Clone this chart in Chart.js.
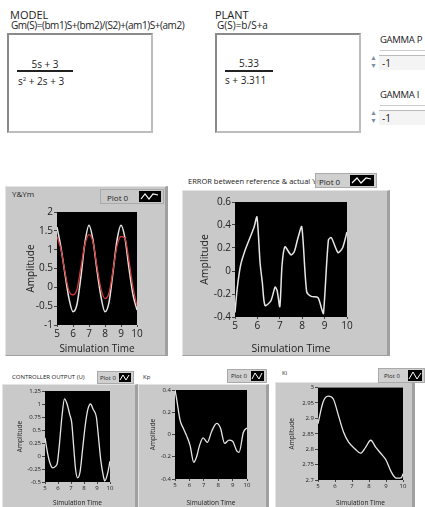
<!DOCTYPE html>
<html>
<head>
<meta charset="utf-8">
<script src="https://cdn.jsdelivr.net/npm/chart.js@4.4.0/dist/chart.umd.min.js"></script>
<style>
body{margin:0;width:425px;height:507px;overflow:hidden;background:#fff;font-family:"Open Sans",sans-serif;color:#222;position:relative}
.lbl{position:absolute;white-space:nowrap;line-height:1}
.box{position:absolute;background:#fff;border:2px solid #8a8a8a;border-right-color:#bdbdbd;border-bottom-color:#bdbdbd;box-sizing:border-box}
.panel{position:absolute;background:#c9c9c9;border:1px solid #e4e4e4;border-right:3px solid #a0a0a0;border-bottom-color:#a0a0a0;box-sizing:border-box}
.leg{position:absolute;background:rgba(200,200,200,0.85);border:1px solid #aaa;box-sizing:border-box;font-size:8px}
.leg span{position:absolute;top:50%;transform:translateY(-50%)}
.leg svg{position:absolute;top:1px;bottom:1px;right:2px;background:#000}
.spin{position:absolute;width:9px;font-size:7px;color:#7d8fa8;line-height:8px;text-align:center}
.field{position:absolute;background:#f4f4f4;border-top:1px solid #bbb;font-size:10px;line-height:14px;padding-left:3px;box-sizing:border-box}
canvas{position:absolute}
</style>
</head>
<body>

<!-- model / plant -->
<div class="lbl" style="left:10px;top:9px;font-size:11px">MODEL</div>
<div class="lbl" style="left:11px;top:20px;font-size:10px;letter-spacing:-0.45px">Gm(S)=(bm1)S+(bm2)/(S2)+(am1)S+(am2)</div>
<div class="box" style="left:7px;top:33px;width:146px;height:100px"></div>
<div class="lbl" style="left:17px;top:59px;width:56px;text-align:center;font-size:10px">5s + 3</div>
<div style="position:absolute;left:17px;top:70px;width:56px;height:2px;background:#222"></div>
<div class="lbl" style="left:18px;top:76px;font-size:10px">s<sup style="font-size:6px">2</sup> + 2s + 3</div>

<div class="lbl" style="left:215px;top:9px;font-size:11px">PLANT</div>
<div class="lbl" style="left:217px;top:20px;font-size:10px">G(S)=b/S+a</div>
<div class="box" style="left:215px;top:33px;width:146px;height:100px"></div>
<div class="lbl" style="left:225px;top:58px;width:48px;text-align:center;font-size:10px">5.33</div>
<div style="position:absolute;left:225px;top:70px;width:48px;height:2px;background:#222"></div>
<div class="lbl" style="left:225px;top:75px;font-size:10px">s + 3.311</div>

<div class="lbl" style="left:380px;top:35px;font-size:9.5px;letter-spacing:-0.3px">GAMMA P</div>
<div style="position:absolute;left:380px;top:50px;width:45px;height:1px;background:#ccc"></div>
<div class="spin" style="left:369px;top:54px">&#9650;<br>&#9660;</div>
<div class="field" style="left:379px;top:55px;width:46px;height:15px">-1</div>
<div class="lbl" style="left:380px;top:90px;font-size:9.5px;letter-spacing:-0.3px">GAMMA I</div>
<div style="position:absolute;left:380px;top:105px;width:45px;height:1px;background:#ccc"></div>
<div class="spin" style="left:369px;top:109px">&#9650;<br>&#9660;</div>
<div class="field" style="left:379px;top:110px;width:46px;height:15px">-1</div>

<!-- graph panels -->
<div class="panel" style="left:5px;top:186px;width:163px;height:170px"></div>
<div class="lbl" style="left:12px;top:190px;font-size:8px">Y&amp;Ym</div>
<div class="leg" style="left:100px;top:189px;width:64px;height:15px"><span style="left:6px">Plot 0</span><svg width="22" height="11"><polyline points="2,8 6,3 10,8 14,3 19,4" fill="none" stroke="#fff" stroke-width="1.2"/></svg></div>

<div class="panel" style="left:182px;top:190px;width:208px;height:166px"></div>
<div class="lbl" style="left:188px;top:178px;font-size:7.5px">ERROR between reference &amp; actual Ym</div>
<div class="leg" style="left:315px;top:173px;width:62px;height:15px"><span style="left:3px">Plot 0</span><svg width="24" height="11"><polyline points="2,8 7,3 11,8 16,3 21,4" fill="none" stroke="#fff" stroke-width="1.2"/></svg></div>

<div class="panel" style="left:2px;top:384px;width:136px;height:125px"></div>
<div class="lbl" style="left:12px;top:374px;font-size:6px">CONTROLLER OUTPUT (U)</div>
<div class="leg" style="left:97px;top:371px;width:37px;height:13px;font-size:6px"><span style="left:2px">Plot 0</span><svg width="12" height="9"><polyline points="1,7 4,2 7,7 10,2" fill="none" stroke="#fff"/></svg></div>

<div class="panel" style="left:138px;top:384px;width:131px;height:125px"></div>
<div class="lbl" style="left:143px;top:374px;font-size:6px">Kp</div>
<div class="leg" style="left:227px;top:369px;width:40px;height:14px;font-size:6px"><span style="left:3px">Plot 0</span><svg width="13" height="10"><polyline points="1,8 4,2 8,8 11,2" fill="none" stroke="#fff"/></svg></div>

<div class="panel" style="left:275px;top:382px;width:140px;height:127px"></div>
<div class="lbl" style="left:282px;top:370px;font-size:6px">Ki</div>
<div class="leg" style="left:378px;top:368px;width:47px;height:15px;font-size:6px"><span style="left:5px">Plot 0</span><svg width="14" height="11"><polyline points="1,9 5,2 9,9 13,3" fill="none" stroke="#fff"/></svg></div>

<canvas id="c1" width="160" height="150" style="left:5px;top:205px"></canvas>
<canvas id="c2" width="206" height="160" style="left:182px;top:195px"></canvas>
<canvas id="c3" width="135" height="122" style="left:2px;top:385px"></canvas>
<canvas id="c4" width="131" height="122" style="left:137px;top:385px"></canvas>
<canvas id="c5" width="140" height="124" style="left:275px;top:383px"></canvas>

<script>
// Y & Ym
const yymTime = [5, 5.25, 5.5, 5.75, 6, 6.25, 6.5, 6.75, 7, 7.25, 7.5, 7.75, 8, 8.25, 8.5, 8.75, 9, 9.25, 9.5, 9.75, 10];
const yValues = [1.6, 1.05, 0.35, -0.3, -0.65, -0.45, 0.3, 1.2, 1.65, 1.25, 0.45, -0.25, -0.65, -0.4, 0.4, 1.25, 1.65, 1.3, 0.5, -0.2, -0.6];
const ymValues = [1.35, 1.0, 0.4, -0.1, -0.2, -0.05, 0.55, 1.15, 1.4, 1.2, 0.55, -0.05, -0.3, -0.15, 0.45, 1.1, 1.35, 1.3, 0.7, 0.0, -0.5];
const yymTicksY = [-1, -0.5, 0, 0.5, 1, 1.5, 2];

// error between reference & actual
const errorTime = [5, 5.1, 5.25, 5.45, 5.65, 5.85, 5.98, 6.12, 6.22, 6.34, 6.6, 6.79, 6.88, 7.0, 7.1, 7.23, 7.5, 7.65, 7.8, 7.98, 8.2, 8.4, 8.7, 8.87, 8.95, 9.17, 9.3, 9.6, 9.8, 10];
const errorValues = [-0.36, -0.15, 0.05, 0.18, 0.28, 0.38, 0.47, 0.07, -0.1, -0.3, -0.26, -0.14, -0.17, -0.31, 0.05, 0.21, 0.14, 0.17, 0.28, 0.385, -0.18, -0.22, -0.23, -0.33, -0.37, 0.27, 0.29, 0.16, 0.2, 0.34];
const errorTicksY = [-0.4, -0.2, 0, 0.2, 0.4, 0.6];

// controller output
const controlTime = [5, 5.2, 5.4, 5.6, 5.8, 5.95, 6.1, 6.3, 6.5, 6.7, 6.9, 7.05, 7.2, 7.35, 7.5, 7.7, 7.9, 8.1, 8.3, 8.5, 8.7, 8.95, 9.1, 9.3, 9.5, 9.6, 9.8, 10];
const controlValues = [0.35, 0.05, -0.15, -0.23, -0.2, -0.13, 0.2, 0.75, 1.1, 1.0, 0.8, 0.65, 0.2, -0.25, -0.42, -0.3, 0.15, 0.6, 0.9, 1.0, 0.9, 0.75, 0.4, -0.1, -0.4, -0.48, -0.35, -0.1];
const controlTicksY = [-0.5, -0.25, 0, 0.25, 0.5, 0.75, 1, 1.25];

// Kp
const kpTime = [5, 5.1, 5.35, 5.6, 5.8, 6.05, 6.3, 6.5, 6.7, 6.95, 7.25, 7.55, 7.9, 8.15, 8.45, 8.75, 9.0, 9.3, 9.45, 9.75, 10];
const kpValues = [0.4, 0.33, 0.13, 0.05, -0.01, -0.1, -0.25, -0.2, -0.1, -0.03, -0.07, 0.03, 0.1, 0.06, -0.08, -0.05, -0.06, -0.15, -0.16, 0.02, 0.06];
const kpTicksY = [-0.4, -0.2, 0, 0.2, 0.4];

// Ki
const kiTime = [5, 5.3, 5.6, 5.9, 6.2, 6.5, 6.8, 7.2, 7.5, 7.8, 8.1, 8.4, 8.7, 9.0, 9.3, 9.6, 9.9, 10];
const kiValues = [2.883, 2.953, 2.972, 2.963, 2.91, 2.856, 2.823, 2.8, 2.787, 2.806, 2.829, 2.806, 2.786, 2.765, 2.727, 2.706, 2.707, 2.72];
const kiTicksY = [2.7, 2.75, 2.8, 2.85, 2.9, 2.95, 3];

const timeTicks = [5, 6, 7, 8, 9, 10];

const blackArea = {
    id: 'blackArea',
    beforeDraw(chart) {
        const a = chart.chartArea;
        chart.ctx.save();
        chart.ctx.fillStyle = '#000';
        chart.ctx.fillRect(a.left, a.top, a.right - a.left, a.bottom - a.top);
        chart.ctx.restore();
    }
};

function pts(xs, ys) {
    return xs.map((x, i) => ({x: x, y: ys[i]}));
}

// plain labels like LabVIEW: 2, 1.5, 0.25 (no padded decimals)
const plain = v => String(Math.round(v * 100) / 100);

function makeChart(id, datasets, yTicks, o) {
    const tickFont = {family: 'Open Sans', size: o.fs};
    const titleFont = {family: 'Open Sans', size: o.ts};
    return new Chart(document.getElementById(id), {
        type: 'line',
        data: {datasets: datasets},
        plugins: [blackArea],
        options: {
            responsive: false,
            animation: false,
            layout: {padding: {left: o.pl, right: o.pr, top: o.pt, bottom: 0}},
            plugins: {legend: {display: false}, tooltip: {enabled: false}},
            elements: {point: {radius: 0}},
            scales: {
                x: {
                    type: 'linear', min: 5, max: 10,
                    afterBuildTicks: ax => { ax.ticks = timeTicks.map(v => ({value: v})); },
                    afterFit: ax => { ax.height = o.xh; },
                    ticks: {font: tickFont, color: '#222', padding: 1, maxRotation: 0, autoSkip: false, callback: plain},
                    grid: {drawOnChartArea: false, tickLength: 2, color: '#444'},
                    border: {display: false},
                    title: {display: true, text: 'Simulation Time', font: titleFont, color: '#222', padding: 0}
                },
                y: {
                    min: yTicks[0], max: yTicks[yTicks.length - 1],
                    afterBuildTicks: ax => { ax.ticks = yTicks.map(v => ({value: v})); },
                    afterFit: ax => { ax.width = o.yw; },
                    ticks: {font: tickFont, color: '#222', padding: 1, autoSkip: false, callback: plain},
                    grid: {drawOnChartArea: false, tickLength: 3, color: '#444'},
                    border: {display: false},
                    title: {display: true, text: 'Amplitude', font: titleFont, color: '#222', padding: 0}
                }
            }
        }
    });
}

function line(data, color, tension, w) {
    return {data: data, borderColor: color, borderWidth: w, tension: tension, cubicInterpolationMode: 'monotone', fill: false};
}

makeChart('c1', [
    line(pts(yymTime, ymValues), '#d23a3a', 0.4, 1.3),
    line(pts(yymTime, yValues), '#e6e6e6', 0.4, 1.5)
], yymTicksY, {fs: 10, ts: 10, pl: 20, pr: 28, pt: 5, yw: 32, xh: 30});

makeChart('c2', [
    {data: pts(errorTime, errorValues), borderColor: '#e6e6e6', borderWidth: 1.5, tension: 0.25, fill: false}
], errorTicksY, {fs: 10, ts: 10.5, pl: 17, pr: 41, pt: 7, yw: 36, xh: 38});

makeChart('c3', [
    line(pts(controlTime, controlValues), '#e6e6e6', 0.4, 1.3)
], controlTicksY, {fs: 6, ts: 6.5, pl: 14, pr: 27, pt: 6, yw: 29, xh: 25});

makeChart('c4', [
    line(pts(kpTime, kpValues), '#e6e6e6', 0.4, 1.3)
], kpTicksY, {fs: 6, ts: 6.5, pl: 12, pr: 21, pt: 5, yw: 26, xh: 28});

makeChart('c5', [
    line(pts(kiTime, kiValues), '#e6e6e6', 0.4, 1.3)
], kiTicksY, {fs: 6, ts: 6.5, pl: 13, pr: 12, pt: 4, yw: 30, xh: 27});
</script>
</body>
</html>
